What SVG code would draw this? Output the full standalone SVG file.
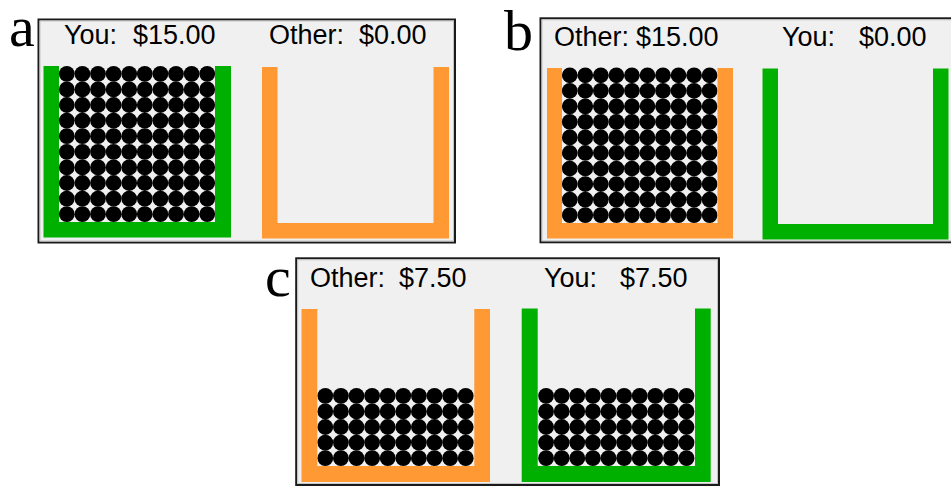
<svg xmlns="http://www.w3.org/2000/svg" width="951" height="487" viewBox="0 0 951 487">
  <style>
    .panel { fill: #f0f0f0; stroke: #1a1a1a; stroke-width: 2; }
    .inner { fill: none; stroke: #c4c4c4; stroke-width: 1; }
    .green { fill: #00b000; }
    .orange { fill: #ff9933; }
    .lbl { font-family: "Liberation Sans", Arial, sans-serif; font-size: 27px; fill: #000; }
    .tag { font-family: "Liberation Serif", "Times New Roman", serif; font-size: 58px; fill: #000; }
  </style>
  <defs>
    <g id="row">
      <circle cx="7.8" cy="7.8" r="7.9"/>
      <circle cx="23.4" cy="7.8" r="7.9"/>
      <circle cx="39" cy="7.8" r="7.9"/>
      <circle cx="54.6" cy="7.8" r="7.9"/>
      <circle cx="70.2" cy="7.8" r="7.9"/>
      <circle cx="85.8" cy="7.8" r="7.9"/>
      <circle cx="101.4" cy="7.8" r="7.9"/>
      <circle cx="117" cy="7.8" r="7.9"/>
      <circle cx="132.6" cy="7.8" r="7.9"/>
      <circle cx="148.2" cy="7.8" r="7.9"/>
    </g>
    <g id="rows5">
      <use href="#row" y="0"/>
      <use href="#row" y="15.6"/>
      <use href="#row" y="31.2"/>
      <use href="#row" y="46.8"/>
      <use href="#row" y="62.4"/>
    </g>
    <g id="rows10">
      <use href="#rows5" y="0"/>
      <use href="#rows5" y="78"/>
    </g>
  </defs>
  <rect width="951" height="487" fill="#fff"/>

  <g id="panel-a">
    <text class="tag" x="9" y="46">a</text>
    <rect class="panel" x="38.5" y="19.5" width="416.5" height="223"/>
    <rect class="inner" x="40" y="21" width="413.5" height="220"/>
    <text class="lbl" x="64" y="43.5">You:</text>
    <text class="lbl" x="133" y="43.5">$15.00</text>
    <text class="lbl" x="269" y="44">Other:</text>
    <text class="lbl" x="359" y="44">$0.00</text>
    <g id="a-you-jar">
      <use href="#rows10" x="59" y="66"/>
      <path class="green" d="M43.5 66 H59 V222 H215 V66 H231 V237.5 H43.5 Z"/>
    </g>
    <g id="a-other-jar">
      <path class="orange" d="M262 67 H277.5 V223 H433.5 V67 H449 V238.5 H262 Z"/>
    </g>
  </g>

  <g id="panel-b">
    <text class="tag" x="504" y="49.5">b</text>
    <rect class="panel" x="540.5" y="18.3" width="414" height="224"/>
    <rect class="inner" x="542" y="19.8" width="412" height="221"/>
    <text class="lbl" x="554" y="45.5">Other:</text>
    <text class="lbl" x="636" y="45.5">$15.00</text>
    <text class="lbl" x="782" y="46">You:</text>
    <text class="lbl" x="859" y="46">$0.00</text>
    <g id="b-other-jar">
      <g transform="translate(562 67.5) scale(0.996)">
        <use href="#rows10"/>
      </g>
      <path class="orange" d="M547 68 H562 V223 H717.5 V68 H733 V238.5 H547 Z"/>
    </g>
    <g id="b-you-jar">
      <path class="green" d="M762.5 68.5 H778 V224 H933 V68.5 H948.5 V239.5 H762.5 Z"/>
    </g>
  </g>

  <g id="panel-c">
    <text class="tag" x="265" y="296">c</text>
    <rect class="panel" x="296.2" y="258.3" width="422.8" height="226.7"/>
    <rect class="inner" x="297.7" y="259.8" width="419.8" height="223.7"/>
    <text class="lbl" x="310" y="286.5">Other:</text>
    <text class="lbl" x="399" y="286.5">$7.50</text>
    <text class="lbl" x="544" y="286.5">You:</text>
    <text class="lbl" x="620" y="286.5">$7.50</text>
    <g id="c-other-jar">
      <use href="#rows5" x="317.5" y="388"/>
      <path class="orange" d="M301.5 309 H317.3 V466 H474.3 V309 H490 V482 H301.5 Z"/>
    </g>
    <g id="c-you-jar">
      <use href="#rows5" x="538.3" y="388"/>
      <path class="green" d="M521.7 308.5 H537.7 V466 H695 V308.5 H710.7 V482 H521.7 Z"/>
    </g>
  </g>
</svg>
